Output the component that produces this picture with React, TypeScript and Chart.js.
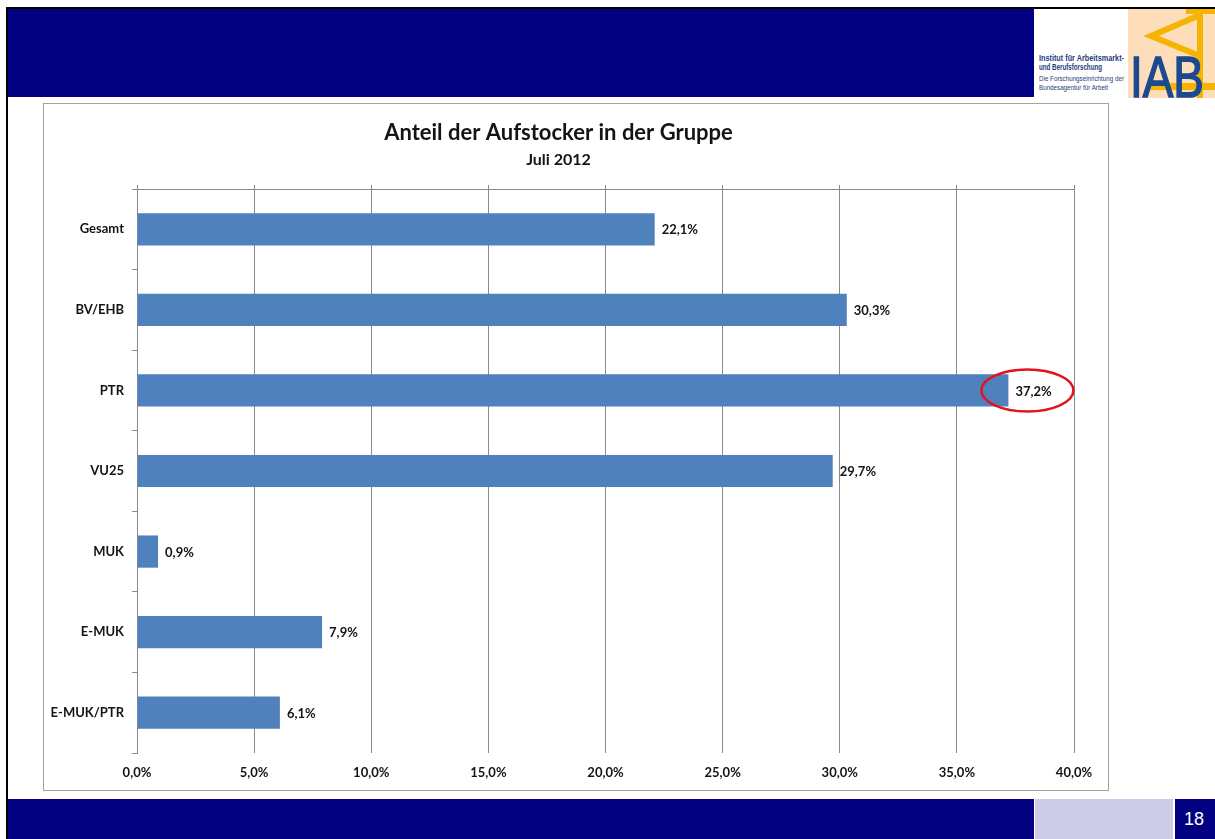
import React, { useEffect, useRef } from "react";
import { Chart, registerables } from "chart.js";

Chart.register(...registerables);

const categories = ["Gesamt", "BV/EHB", "PTR", "VU25", "MUK", "E-MUK", "E-MUK/PTR"];
const shares = [22.1, 30.3, 37.2, 29.7, 0.9, 7.9, 6.1];
const valueLabels = ["22,1%", "30,3%", "37,2%", "29,7%", "0,9%", "7,9%", "6,1%"];
const xTickLabels = ["0,0%", "5,0%", "10,0%", "15,0%", "20,0%", "25,0%", "30,0%", "35,0%", "40,0%"];
const highlightCategory = "PTR";
const chartTitle = "Anteil der Aufstocker in der Gruppe";
const chartSubtitle = "Juli 2012";
const pageNumber = "18";

const NAVY = "#000080";
const BAR = "#4F81BD";
const GRID = "#8A8A8A";
const TEXT = "#141414";
const FONT = "Lato, 'Open Sans', 'DejaVu Sans', sans-serif";

const labelPlugin = {
  id: "valueLabels",
  afterDatasetsDraw(chart: any) {
    const ctx = chart.ctx;
    const meta = chart.getDatasetMeta(0);
    ctx.save();
    ctx.font = `bold 13px ${FONT}`;
    ctx.fillStyle = TEXT;
    ctx.textAlign = "left";
    ctx.textBaseline = "middle";
    meta.data.forEach((bar: any, i: number) => {
      ctx.fillText(valueLabels[i], bar.x + 7, bar.y + 1);
    });
    const hi = categories.indexOf(highlightCategory);
    if (hi >= 0) {
      const bar: any = meta.data[hi];
      ctx.beginPath();
      ctx.ellipse(bar.x + 19, bar.y, 46, 21, 0, 0, Math.PI * 2);
      ctx.strokeStyle = "#E3131B";
      ctx.lineWidth = 2.5;
      ctx.stroke();
    }
    ctx.restore();
  },
};

function ChartBox() {
  const ref = useRef<HTMLCanvasElement | null>(null);
  useEffect(() => {
    if (!ref.current) return;
    const chart = new Chart(ref.current, {
      type: "bar",
      data: {
        labels: categories,
        datasets: [
          {
            data: shares,
            backgroundColor: BAR,
            borderWidth: 0,
            barPercentage: 0.4,
            categoryPercentage: 1,
            xAxisID: "x",
            yAxisID: "y",
          },
        ],
      },
      options: {
        indexAxis: "y",
        responsive: false,
        animation: false,
        layout: { padding: { left: 0, right: 35, top: 0, bottom: 0 } },
        plugins: {
          legend: { display: false },
          tooltip: { enabled: false },
          title: {
            display: true,
            text: chartTitle,
            color: TEXT,
            font: { family: FONT, size: 22, weight: "bold", lineHeight: 1.2 },
            padding: { top: 17, bottom: 0 },
          },
          subtitle: {
            display: true,
            text: chartSubtitle,
            color: TEXT,
            font: { family: FONT, size: 16, weight: "bold", lineHeight: 1.2 },
            padding: { top: 4, bottom: 0 },
          },
        },
        scales: {
          x: {
            type: "linear",
            position: "bottom",
            min: 0,
            max: 40,
            ticks: {
              stepSize: 5,
              padding: 12,
              color: TEXT,
              font: { family: FONT, size: 13, weight: "bold" },
              callback: (_v: any, i: number) => xTickLabels[i],
            },
            grid: { color: GRID, drawTicks: false, lineWidth: 1 },
            border: { display: false },
            afterFit: (s: any) => {
              s.height = 38;
            },
          },
          x2: {
            type: "linear",
            position: "top",
            min: 0,
            max: 40,
            ticks: { stepSize: 5, display: false },
            grid: { drawOnChartArea: false, drawTicks: true, tickLength: 4, color: GRID },
            border: { display: true, color: GRID },
            afterFit: (s: any) => {
              s.height = 19.4;
            },
          },
          y: {
            type: "category",
            position: "left",
            offset: true,
            ticks: {
              padding: 8,
              color: TEXT,
              font: { family: FONT, size: 13, weight: "bold" },
            },
            grid: { offset: true, drawOnChartArea: false, tickLength: 5, color: GRID },
            border: { display: true, color: GRID },
            afterFit: (s: any) => {
              s.width = 94;
            },
          },
        },
      } as any,
      plugins: [labelPlugin],
    });
    return () => chart.destroy();
  }, []);
  return (
    <>
      <canvas
        ref={ref}
        width={1066}
        height={688}
        style={{ position: "absolute", left: 43, top: 103, width: 1066, height: 688, background: "#fff" }}
      />
      <div
        style={{
          position: "absolute",
          left: 43,
          top: 103,
          width: 1066,
          height: 688,
          border: "1px solid #A2A2A2",
          boxSizing: "border-box",
          pointerEvents: "none",
        }}
      />
    </>
  );
}

function Logo() {
  return (
    <svg
      width={181}
      height={89}
      viewBox="0 0 181 89"
      style={{ position: "absolute", left: 1034, top: 9 }}
    >
      <rect x={0} y={0} width={181} height={89} fill="#ffffff" />
      <rect x={94} y={0} width={87} height={89} fill="#FDDDBA" />
      <rect x={152} y={0} width={29} height={5} fill="#F6B400" />
      <rect x={163} y={2} width={6} height={87} fill="#F6B400" />
      <polyline points="166,6 117,27 166,47" fill="none" stroke="#F6B400" strokeWidth={6} strokeLinejoin="miter" />
      <rect x={116} y={74} width={65} height={7} fill="#F6B400" />
      <text
        x={96}
        y={88}
        fill="#1B4A8E"
        stroke="#1B4A8E"
        strokeWidth={1.6}
        fontFamily="'Liberation Sans', Arial, sans-serif"
        fontSize={58}
        textLength={74}
        lengthAdjust="spacingAndGlyphs"
      >
        IAB
      </text>
      <g fill="#1F3C7D" fontFamily="'Liberation Sans', Arial, sans-serif">
        <text x={5} y={52} fontSize={8.5} fontWeight="bold" textLength={85} lengthAdjust="spacingAndGlyphs">
          Institut für Arbeitsmarkt-
        </text>
        <text x={5} y={61} fontSize={8.5} fontWeight="bold" textLength={63} lengthAdjust="spacingAndGlyphs">
          und Berufsforschung
        </text>
        <text x={5} y={72} fontSize={7} textLength={85} lengthAdjust="spacingAndGlyphs">
          Die Forschungseinrichtung der
        </text>
        <text x={5} y={81} fontSize={7} textLength={69} lengthAdjust="spacingAndGlyphs">
          Bundesagentur für Arbeit
        </text>
      </g>
    </svg>
  );
}

export default function App() {
  return (
    <div
      style={{
        position: "absolute",
        left: 0,
        top: 0,
        width: 1215,
        height: 839,
        background: "#ffffff",
        overflow: "hidden",
      }}
    >
      <div style={{ position: "absolute", left: 6, top: 7, width: 1209, height: 2, background: "#000" }} />
      <div style={{ position: "absolute", left: 6, top: 7, width: 2, height: 832, background: "#000" }} />
      <div style={{ position: "absolute", left: 8, top: 9, width: 1026, height: 88, background: NAVY }} />
      <Logo />
      <ChartBox />
      <div style={{ position: "absolute", left: 8, top: 799, width: 1026, height: 40, background: NAVY }} />
      <div style={{ position: "absolute", left: 1035, top: 799, width: 138, height: 40, background: "#CCCCE6" }} />
      <div
        style={{
          position: "absolute",
          left: 1175,
          top: 799,
          width: 40,
          height: 40,
          background: NAVY,
          color: "#fff",
          fontFamily: "'Liberation Sans', Arial, sans-serif",
          fontSize: 18,
          lineHeight: "40px",
          textAlign: "center",
          boxSizing: "border-box",
          paddingRight: 2,
        }}
      >
        {pageNumber}
      </div>
    </div>
  );
}
